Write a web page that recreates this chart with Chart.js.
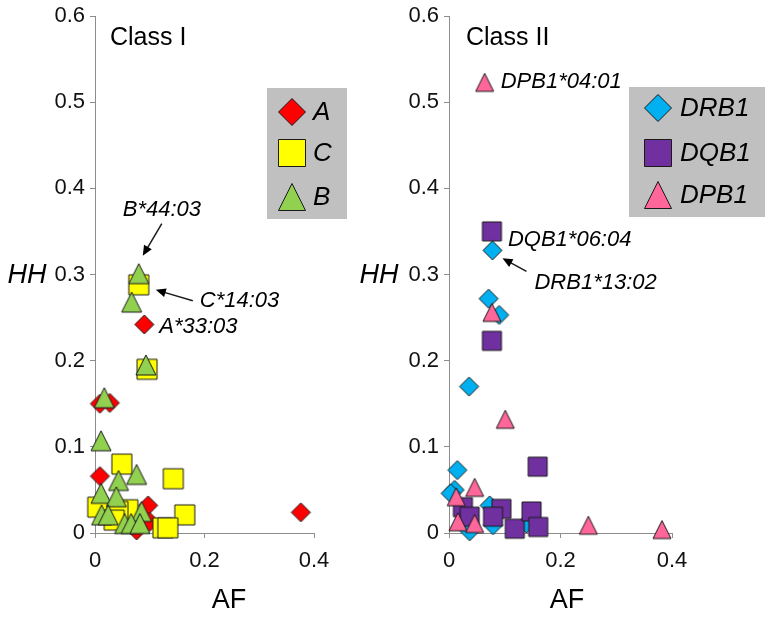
<!DOCTYPE html>
<html>
<head>
<meta charset="utf-8">
<script src="https://cdn.jsdelivr.net/npm/chart.js@4.4.0/dist/chart.umd.min.js"></script>
<style>
  html, body { margin: 0; padding: 0; background: #fff; }
  #wrap { position: relative; width: 772px; height: 618px; overflow: hidden; }
  canvas { position: absolute; top: 0; }
  #chartI { left: 0; }
  #chartII { left: 340px; }
</style>
</head>
<body>
<div id="wrap">
  <canvas id="chartI" width="386" height="618"></canvas>
  <canvas id="chartII" width="432" height="618"></canvas>
</div>
<script>
// axis ticks
const xTicks = [0, 0.2, 0.4];
const yTicks = [0, 0.1, 0.2, 0.3, 0.4, 0.5, 0.6];

// Class I: allele frequency (AF) vs HH, per locus
const classILoci = ['A', 'C', 'B'];
const afA = [0.376, 0.090, 0.009, 0.027, 0.009, 0.097, 0.100, 0.076];
const hhA = [0.024, 0.242, 0.150, 0.151, 0.066, 0.032, 0.013, 0.003];
const afC = [0.080, 0.095, 0.049, 0.143, 0.164, 0.005, 0.060, 0.042, 0.124, 0.133, 0.035];
const hhC = [0.288, 0.190, 0.080, 0.063, 0.021, 0.030, 0.027, 0.025, 0.006, 0.006, 0.015];
const afB = [0.080, 0.067, 0.093, 0.017, 0.011, 0.076, 0.043, 0.011, 0.039, 0.012, 0.024, 0.085, 0.054, 0.066, 0.082];
const hhB = [0.301, 0.268, 0.195, 0.157, 0.107, 0.068, 0.061, 0.046, 0.042, 0.021, 0.021, 0.025, 0.011, 0.011, 0.011];

// Class II
const classIILoci = ['DRB1', 'DQB1', 'DPB1'];
const afDRB1 = [0.078, 0.071, 0.090, 0.036, 0.015, 0.010, 0.003, 0.073, 0.079, 0.037, 0.139];
const hhDRB1 = [0.328, 0.272, 0.253, 0.170, 0.073, 0.050, 0.046, 0.032, 0.009, 0.002, 0.011];
const afDQB1 = [0.077, 0.077, 0.159, 0.025, 0.037, 0.094, 0.079, 0.118, 0.148, 0.160];
const hhDQB1 = [0.350, 0.223, 0.077, 0.030, 0.019, 0.028, 0.019, 0.005, 0.025, 0.007];
const afDPB1 = [0.064, 0.077, 0.101, 0.046, 0.013, 0.016, 0.046, 0.250, 0.382];
const hhDPB1 = [0.523, 0.256, 0.132, 0.053, 0.042, 0.013, 0.011, 0.009, 0.004];

const FONT = '"Liberation Sans", Arial, sans-serif';
const AXIS = '#8c8c8c';
const OUTLINE = '#1a1a1a';

function traceShape(g, shape, cx, cy, s) {
  const h = s / 2;
  g.beginPath();
  if (shape === 'diamond') {
    g.moveTo(cx, cy - h); g.lineTo(cx + h, cy); g.lineTo(cx, cy + h); g.lineTo(cx - h, cy);
  } else if (shape === 'square') {
    g.rect(cx - h, cy - h, s, s);
  } else {
    g.moveTo(cx, cy - h); g.lineTo(cx + h, cy + h); g.lineTo(cx - h, cy + h);
  }
  g.closePath();
}

function paintShape(g, shape, fill, cx, cy, s) {
  traceShape(g, shape, cx, cy, s);
  g.fillStyle = fill;
  g.fill();
  g.lineWidth = 1;
  g.strokeStyle = OUTLINE;
  g.stroke();
}

// excel-like marker as an image so it sits centred on its value
function marker(shape, fill, size) {
  const c = document.createElement('canvas');
  c.width = c.height = size + 4;
  paintShape(c.getContext('2d'), shape, fill, c.width / 2, c.height / 2, size);
  return c;
}

const points = (af, hh) => af.map((v, i) => ({ x: v, y: hh[i] }));

function arrow(ctx, x1, y1, x2, y2) {
  const a = Math.atan2(y2 - y1, x2 - x1), len = 10, w = 4.5;
  ctx.beginPath();
  ctx.moveTo(x1, y1);
  ctx.lineTo(x2 - Math.cos(a) * len * 0.8, y2 - Math.sin(a) * len * 0.8);
  ctx.lineWidth = 1.5;
  ctx.stroke();
  ctx.beginPath();
  ctx.moveTo(x2, y2);
  ctx.lineTo(x2 - len * Math.cos(a) + w * Math.sin(a), y2 - len * Math.sin(a) - w * Math.cos(a));
  ctx.lineTo(x2 - len * Math.cos(a) - w * Math.sin(a), y2 - len * Math.sin(a) + w * Math.cos(a));
  ctx.closePath();
  ctx.fill();
}

const decor = {
  id: 'decor',
  afterDraw(chart, args, o) {
    const { ctx, scales: { x, y } } = chart;
    ctx.save();
    ctx.fillStyle = '#000';
    ctx.strokeStyle = '#000';
    ctx.textBaseline = 'middle';

    ctx.textAlign = 'left';
    ctx.font = '25px ' + FONT;
    ctx.fillText(o.title, x.left + o.titleDx, 38);

    ctx.textAlign = 'center';
    ctx.font = 'italic 27px ' + FONT;
    ctx.fillText('HH', x.left - o.hhDx, 275);
    ctx.font = '27px ' + FONT;
    ctx.fillText('AF', x.left + o.afDx, 601);

    // legend box
    const L = o.legend;
    ctx.fillStyle = '#c0c0c0';
    ctx.fillRect(L.x, L.y, L.w, L.h);
    ctx.textAlign = 'left';
    ctx.font = 'italic 26px ' + FONT;
    L.items.forEach((it, i) => {
      paintShape(ctx, it.shape, it.fill, L.markerX, L.rows[i], 27);
      ctx.fillStyle = '#000';
      ctx.fillText(it.label, L.textX, L.rows[i] + 1);
    });

    // allele call-outs
    ctx.font = 'italic 22px ' + FONT;
    ctx.fillStyle = '#000';
    o.notes.forEach(n => {
      const px = x.getPixelForValue(n.at[0]);
      const py = y.getPixelForValue(n.at[1]);
      ctx.fillText(n.text, px + n.dx, py + n.dy);
      if (n.arrow) {
        const [fx, fy, tx, ty] = n.arrow;
        arrow(ctx, px + fx, py + fy, px + tx, py + ty);
      }
    });
    ctx.restore();
  }
};

function panel(id, series, deco) {
  const tickFont = { family: FONT, size: 22, lineHeight: 1 };
  return new Chart(document.getElementById(id), {
    type: 'scatter',
    data: {
      datasets: series.map(s => ({
        label: s.label,
        data: points(s.af, s.hh),
        order: s.order,
        pointStyle: marker(s.shape, s.fill, s.size),
        pointRadius: s.size / 2,
        pointHoverRadius: s.size / 2,
        clip: false
      }))
    },
    options: {
      responsive: false,
      animation: false,
      events: [],
      layout: { padding: deco.padding },
      plugins: {
        legend: { display: false },
        tooltip: { enabled: false },
        decor: {
          ...deco,
          legend: { ...deco.legend, items: series.map(s => ({ label: s.label, shape: s.shape, fill: s.fill })) }
        }
      },
      scales: {
        x: {
          type: 'linear', min: 0, max: 0.4,
          afterBuildTicks: sc => { sc.ticks = xTicks.map(value => ({ value })); },
          afterFit: sc => { sc.height = 85; },
          border: { color: AXIS, width: 1 },
          grid: { drawOnChartArea: false, tickLength: 5, color: AXIS },
          ticks: { padding: 12, color: '#111', font: tickFont, maxRotation: 0, autoSkip: false, callback: v => String(v) }
        },
        y: {
          type: 'linear', min: 0, max: 0.6,
          afterBuildTicks: sc => { sc.ticks = yTicks.map(value => ({ value })); },
          afterFit: sc => { sc.width = deco.yWidth; },
          border: { color: AXIS, width: 1 },
          grid: { drawOnChartArea: false, tickLength: 5, color: AXIS },
          ticks: { padding: 5, color: '#111', font: tickFont, autoSkip: false, callback: v => String(v) }
        }
      }
    },
    plugins: [decor]
  });
}

panel('chartI', [
  { label: classILoci[0], af: afA, hh: hhA, shape: 'diamond', fill: '#ff0000', size: 19, order: 2 },
  { label: classILoci[1], af: afC, hh: hhC, shape: 'square', fill: '#ffff00', size: 20, order: 1 },
  { label: classILoci[2], af: afB, hh: hhB, shape: 'triangle', fill: '#92d050', size: 20, order: 0 }
], {
  padding: { left: 0, top: 13, right: 72, bottom: 0 },
  yWidth: 95,
  title: 'Class I', titleDx: 15, hhDx: 68, afDx: 134,
  legend: { x: 267, y: 88, w: 80, h: 131, markerX: 292, textX: 313, rows: [112, 153, 197] },
  notes: [
    { text: 'B*44:03', at: [afB[0], hhB[0]], dx: -16, dy: -64, arrow: [23, -50, 4, -18] },
    { text: 'C*14:03', at: [afC[0], hhC[0]], dx: 61, dy: 16, arrow: [54, 16, 17, 5] },
    { text: 'A*33:03', at: [afA[1], hhA[1]], dx: 15, dy: 2 }
  ]
});

panel('chartII', [
  { label: classIILoci[0], af: afDRB1, hh: hhDRB1, shape: 'diamond', fill: '#00b0f0', size: 19, order: 2 },
  { label: classIILoci[1], af: afDQB1, hh: hhDQB1, shape: 'square', fill: '#7030a0', size: 19, order: 1 },
  { label: classIILoci[2], af: afDPB1, hh: hhDPB1, shape: 'triangle', fill: '#ff6699', size: 18, order: 0 }
], {
  padding: { left: 0, top: 13, right: 100, bottom: 0 },
  yWidth: 109,
  title: 'Class II', titleDx: 17, hhDx: 70, afDx: 118,
  legend: { x: 289, y: 87, w: 136, h: 130, markerX: 318, textX: 340, rows: [108, 153, 195] },
  notes: [
    { text: 'DPB1*04:01', at: [afDPB1[0], hhDPB1[0]], dx: 16, dy: 0 },
    { text: 'DQB1*06:04', at: [afDQB1[0], hhDQB1[0]], dx: 16, dy: 8 },
    { text: 'DRB1*13:02', at: [afDRB1[0], hhDRB1[0]], dx: 42, dy: 33, arrow: [34, 21, 10, 8] }
  ]
});
</script>
</body>
</html>
